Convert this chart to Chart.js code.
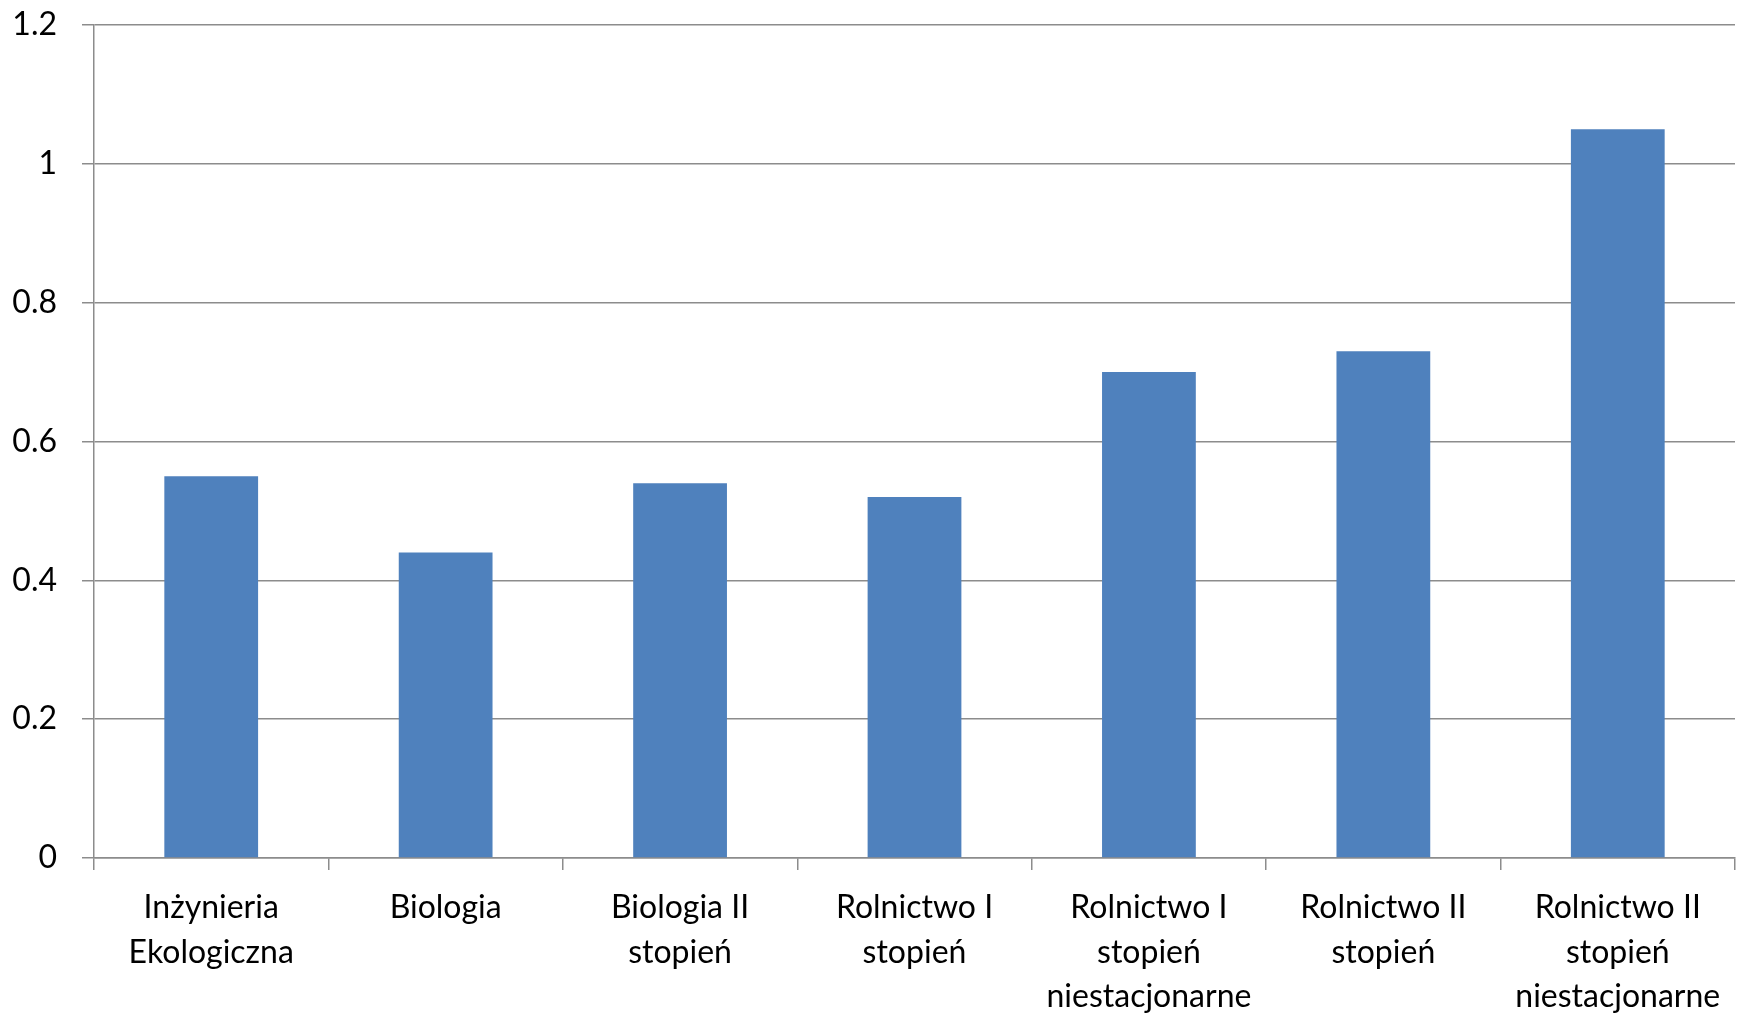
<!DOCTYPE html>
<html lang="pl">

<head>
  <meta charset="UTF-8" />
  <title>Wykres</title>
  <script src="https://cdn.jsdelivr.net/npm/chart.js"></script>
  <style>
    html, body {
      margin: 0;
      padding: 0;
      background: #ffffff;
    }

    #wrap {
      width: 1746px;
      height: 1018px;
    }
  </style>
</head>

<body>
  <div id="wrap">
    <canvas id="barChart" width="1746" height="1018"></canvas>
  </div>

  <script>
    // data
    const categories = [
      ['Inżynieria', 'Ekologiczna'],
      ['Biologia'],
      ['Biologia II', 'stopień'],
      ['Rolnictwo I', 'stopień'],
      ['Rolnictwo I', 'stopień', 'niestacjonarne'],
      ['Rolnictwo II', 'stopień'],
      ['Rolnictwo II', 'stopień', 'niestacjonarne']
    ];
    const values = [0.55, 0.44, 0.54, 0.52, 0.70, 0.73, 1.05];
    const yTicks = [0, 0.2, 0.4, 0.6, 0.8, 1, 1.2];

    const axisGray = '#8c8c8c';
    const font = { family: 'Lato, "Open Sans", sans-serif', size: 32, lineHeight: 1.4 };

    const ctx = document.getElementById('barChart').getContext('2d');
    new Chart(ctx, {
      type: 'bar',
      data: {
        labels: categories,
        datasets: [{
          data: values,
          backgroundColor: '#4f81bd',
          borderWidth: 0,
          barPercentage: 0.4,
          categoryPercentage: 1.0
        }]
      },
      options: {
        responsive: false,
        animation: false,
        layout: { padding: { top: 25, right: 11, left: 0, bottom: 0 } },
        plugins: {
          legend: { display: false },
          tooltip: { enabled: false }
        },
        scales: {
          x: {
            grid: {
              offset: true,
              drawOnChartArea: false,
              drawTicks: true,
              tickLength: 12,
              color: axisGray,
              lineWidth: 1.5
            },
            border: { color: axisGray, width: 1.5 },
            ticks: {
              color: '#000000',
              font: font,
              padding: 15,
              maxRotation: 0,
              autoSkip: false
            },
            afterFit: scale => {
              scale.height = 160;
              scale.paddingLeft = 0;
              scale.paddingRight = 0;
            }
          },
          y: {
            min: 0,
            max: 1.2,
            afterBuildTicks: scale => {
              scale.ticks = yTicks.map(v => ({ value: v }));
            },
            grid: {
              color: axisGray,
              lineWidth: 1.5,
              tickLength: 12
            },
            border: { color: axisGray, width: 1.5 },
            ticks: {
              color: '#000000',
              font: font,
              padding: 25,
              callback: v => String(v)
            },
            afterFit: scale => {
              scale.width = 94;
              scale.paddingTop = 0;
              scale.paddingBottom = 0;
            }
          }
        }
      }
    });
  </script>
</body>

</html>
